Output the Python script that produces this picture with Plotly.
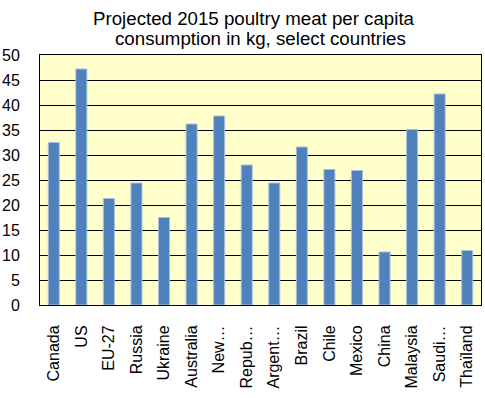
import plotly.graph_objects as go

countries = ["Canada", "US", "EU-27", "Russia", "Ukraine", "Australia", "New…",
             "Repub…", "Argent…", "Brazil", "Chile", "Mexico", "China",
             "Malaysia", "Saudi…", "Thaïland"]
consumption_kg = [32.5, 47.2, 21.3, 24.4, 17.5, 36.2, 37.8, 28.0, 24.4, 31.6,
                  27.1, 26.9, 10.6, 35.1, 42.2, 10.9]
y_ticks = [0, 5, 10, 15, 20, 25, 30, 35, 40, 45, 50]
title_lines = ["Projected 2015 poultry meat per capita",
               "consumption in kg, select countries"]

fig = go.Figure(go.Bar(
    x=countries, y=consumption_kg,
    marker=dict(color="#4F81BD", line=dict(color="#A7BFDE", width=1)),
))

font = "Liberation Sans, Arial, sans-serif"
fig.update_layout(
    width=485, height=398,
    margin=dict(l=40, r=4, t=55, b=93, autoexpand=False),
    paper_bgcolor="white", plot_bgcolor="#FFFFCC",
    bargap=0.6, showlegend=False,
    font=dict(family=font, size=16, color="black"),
    annotations=[
        dict(text=title_lines[0], xref="paper", yref="paper", x=0.486, y=1.146,
             xanchor="center", yanchor="middle", showarrow=False,
             font=dict(family=font, size=18.7, color="black")),
        dict(text=title_lines[1], xref="paper", yref="paper", x=0.501, y=1.066,
             xanchor="center", yanchor="middle", showarrow=False,
             font=dict(family=font, size=18.7, color="black")),
    ],
)
fig.update_xaxes(
    tickangle=-90, showline=True, linecolor="black", linewidth=1, mirror=True,
    showgrid=False, ticks="", ticklabelstandoff=13, automargin=False,
    tickfont=dict(family=font, size=16, color="black"),
)
fig.update_yaxes(
    range=[0, 50], tickvals=y_ticks, showline=True, linecolor="black", linewidth=1,
    mirror=True, showgrid=True, gridcolor="black", gridwidth=1, zeroline=False,
    ticks="", ticklabelstandoff=16, automargin=False,
    tickfont=dict(family=font, size=16, color="black"),
)
fig.write_html("out.html", config={"displayModeBar": False},
               post_script="document.body.style.margin='0px';")
